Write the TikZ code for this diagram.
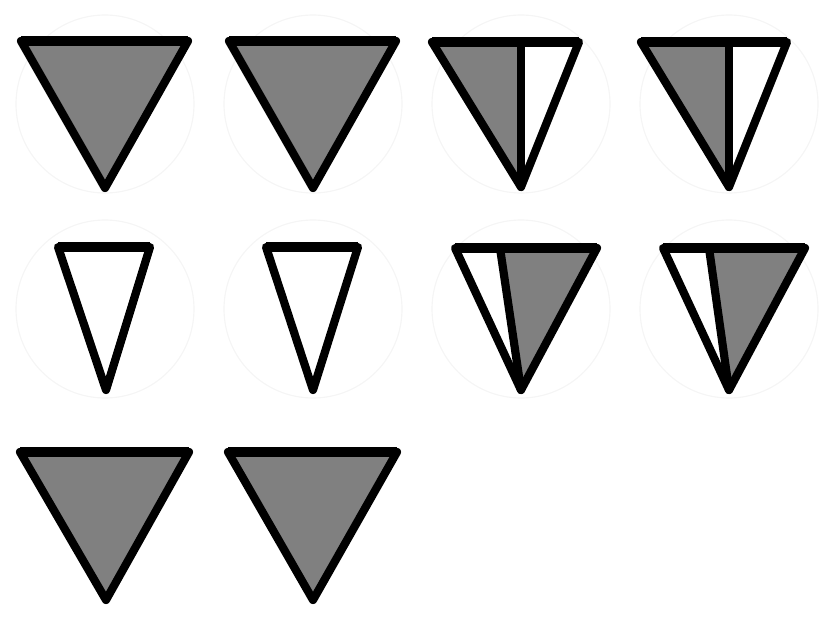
\documentclass[tikz,border=0pt]{standalone}
\tikzset{
  halo/.style   ={draw=black!4, line width=1pt},
  edge/.style   ={draw=black, line width=7pt, line join=round},
  rim/.style    ={draw=black, line width=9pt},
  divider/.style={draw=black, line width=7pt, line cap=round},
  shade/.style  ={fill=gray},
}

\begin{document}
\begin{tikzpicture}[x=0.03cm, y=-0.03cm]

  \useasboundingbox (0,0) rectangle (832,618);

  % faint rings behind the first two rows
  \foreach \cx in {105,313,521,729} {
    \draw[halo] (\cx,104) circle (89);
    \draw[halo] (\cx,309) circle (89);
  }

  % plain triangles: left/right/apex x, top/apex y, fill
  \foreach \l/\r/\a/\t/\b/\f in {21/188/105/41/188/gray, 229/396/313/41/188/gray,
                                 58/150/106/247/390/white, 266/358/313/247/390/white,
                                 20/189/106/452/600/gray, 228/397/313/452/600/gray} {
    \coordinate (tl) at (\l,\t);
    \coordinate (tr) at (\r,\t);
    \coordinate (ap) at (\a,\b);
    \filldraw[edge, fill=\f] (tl) -- (tr) -- (ap) -- cycle;
    \draw[rim] (tl) -- (tr);
  }

  % split triangles: divider from (\d,top) to the apex
  \foreach \l/\r/\a/\t/\b/\d/\lf/\rf in {432/579/521/42/187/521/gray/white,
                                         641/787/729/42/187/729/gray/white,
                                         455/597/521/248/390/500/white/gray,
                                         663/805/729/248/390/709/white/gray} {
    \coordinate (tl) at (\l,\t);
    \coordinate (tr) at (\r,\t);
    \coordinate (ap) at (\a,\b);
    \coordinate (dv) at (\d,\t);
    \fill[\lf] (tl) -- (dv) -- (ap) -- cycle;
    \fill[\rf] (dv) -- (tr) -- (ap) -- cycle;
    \draw[edge] (tl) -- (tr) -- (ap) -- cycle;
    \draw[divider] (dv) -- (ap);
    \draw[rim] (tl) -- (tr);
  }

\end{tikzpicture}
\end{document}
